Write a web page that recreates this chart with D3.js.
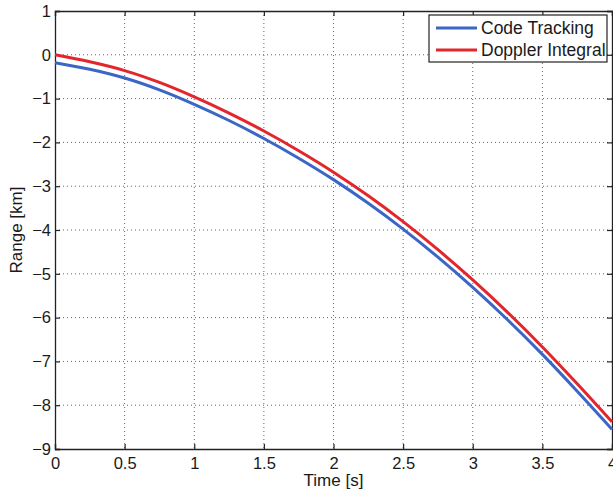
<!DOCTYPE html>
<html>
<head>
<meta charset="utf-8">
<script src="https://cdn.jsdelivr.net/npm/d3@7"></script>
<style>
  html, body { margin: 0; padding: 0; background: #fff; overflow: hidden; }
  svg { display: block; font-family: "Liberation Sans", Arial, sans-serif; }
</style>
</head>
<body>
<div id="chart"></div>
<script>
// values
const timeS = [0, 0.25, 0.5, 0.75, 1, 1.25, 1.5, 1.75, 2, 2.25, 2.5, 2.75, 3, 3.25, 3.5, 3.75, 4];
const codeTracking = [-0.18, -0.33, -0.53, -0.80, -1.13, -1.50, -1.91, -2.36, -2.85, -3.39, -3.98, -4.62, -5.31, -6.05, -6.84, -7.68, -8.55];
const dopplerIntegral = [0.00, -0.16, -0.36, -0.63, -0.96, -1.33, -1.74, -2.19, -2.68, -3.22, -3.81, -4.45, -5.14, -5.88, -6.67, -7.51, -8.38];
const xTicks = [0, 0.5, 1, 1.5, 2, 2.5, 3, 3.5, 4];
const yTicks = [1, 0, -1, -2, -3, -4, -5, -6, -7, -8, -9];
const seriesNames = ['Code Tracking', 'Doppler Integral'];
const seriesColors = ['#3a66c6', '#e3262b'];

const W = 613, H = 495;
const margin = { top: 11, right: 1, bottom: 46, left: 55 };
const width = W - margin.left - margin.right;
const height = H - margin.top - margin.bottom;

const svg = d3.select('#chart').append('svg')
  .attr('width', W).attr('height', H);

const g = svg.append('g')
  .attr('transform', `translate(${margin.left},${margin.top})`);

const x = d3.scaleLinear().domain([0, 4]).range([0, width]);
const y = d3.scaleLinear().domain([-9, 1]).range([height, 0]);

const fmt = v => String(v).replace('-', '\u2212');

// grid
g.append('g').selectAll('line')
  .data(xTicks.slice(1, -1)).join('line')
  .attr('x1', d => x(d)).attr('x2', d => x(d))
  .attr('y1', 0).attr('y2', height)
  .attr('stroke', '#666').attr('stroke-width', 1)
  .attr('stroke-dasharray', '1,3');

g.append('g').selectAll('line')
  .data(yTicks.slice(1, -1)).join('line')
  .attr('x1', 0).attr('x2', width)
  .attr('y1', d => y(d)).attr('y2', d => y(d))
  .attr('stroke', '#666').attr('stroke-width', 1)
  .attr('stroke-dasharray', '1,3');

// axes (ticks inward, mirrored on top/right)
const tick = 5;
const xAxis = g.append('g').attr('transform', `translate(0,${height})`)
  .call(d3.axisBottom(x).tickValues(xTicks).tickSize(-tick).tickPadding(8).tickFormat(fmt));
const xTop = g.append('g')
  .call(d3.axisTop(x).tickValues(xTicks).tickSize(-tick).tickFormat(''));
const yAxis = g.append('g')
  .call(d3.axisLeft(y).tickValues(yTicks).tickSize(-tick).tickPadding(4).tickFormat(fmt));
const yRight = g.append('g').attr('transform', `translate(${width},0)`)
  .call(d3.axisRight(y).tickValues(yTicks).tickSize(-tick).tickFormat(''));

[xAxis, xTop, yAxis, yRight].forEach(a => {
  a.select('.domain').attr('stroke', '#222').attr('stroke-width', 1.3);
  a.selectAll('.tick line').attr('stroke', '#222').attr('stroke-width', 1.2);
  a.selectAll('.tick text').attr('fill', '#1a1a1a').attr('font-size', '16.5px')
    .attr('font-family', '"Liberation Sans", Arial, sans-serif');
});

// axis labels
g.append('text')
  .attr('x', x(2)).attr('y', height + 37)
  .attr('text-anchor', 'middle').attr('font-size', '17px').attr('fill', '#1a1a1a')
  .text('Time [s]');

g.append('text').attr('transform', 'rotate(-90)')
  .attr('x', -height / 2).attr('y', -33)
  .attr('text-anchor', 'middle').attr('font-size', '17px').attr('fill', '#1a1a1a')
  .text('Range [km]');

// curves
const line = d3.line().curve(d3.curveMonotoneX)
  .x(d => x(d[0])).y(d => y(d[1]));

[codeTracking, dopplerIntegral].forEach((vals, i) => {
  g.append('path')
    .datum(timeS.map((t, k) => [t, vals[k]]))
    .attr('fill', 'none')
    .attr('stroke', seriesColors[i])
    .attr('stroke-width', 3)
    .attr('d', line);
});

// legend
const lg = svg.append('g').attr('transform', 'translate(429,15)');
lg.append('rect')
  .attr('width', 178).attr('height', 47)
  .attr('fill', '#fff').attr('stroke', '#222').attr('stroke-width', 1.2);

seriesNames.forEach((name, i) => {
  const yy = 13 + i * 22;
  lg.append('line')
    .attr('x1', 7).attr('x2', 48).attr('y1', yy).attr('y2', yy)
    .attr('stroke', seriesColors[i]).attr('stroke-width', 3);
  lg.append('text')
    .attr('x', 52).attr('y', yy).attr('dy', '0.35em')
    .attr('font-size', '17.5px').attr('fill', '#1a1a1a')
    .text(name);
});
</script>
</body>
</html>
